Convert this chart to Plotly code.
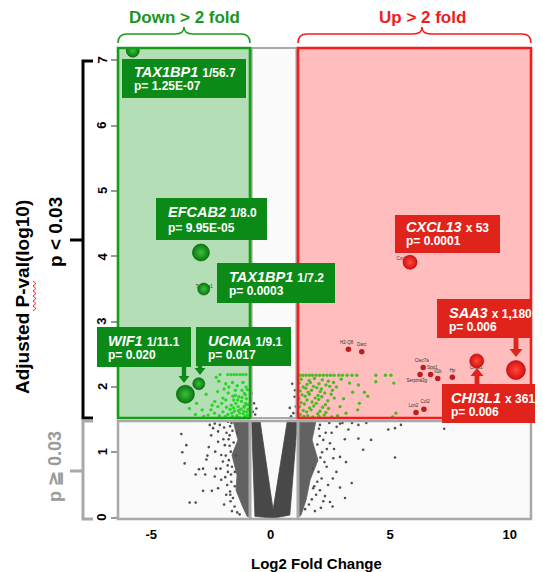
import plotly.graph_objects as go

# ---------------- data ----------------
# highlighted genes (log2 fold change, adjusted -log10 p)
hl_genes = ["TAX1BP1", "EFCAB2", "TAX1BP1", "WIF1", "UCMA", "CXCL13", "SAA3", "CHI3L1"]
hl_fc = [-5.77, -2.92, -2.80, -3.57, -3.01, 5.83, 10.26, 8.62]
hl_p = [7.15, 4.06, 3.50, 1.89, 2.05, 3.91, 2.26, 2.40]
hl_size = [13, 17, 12, 18, 12, 14, 19, 14]
hl_dir = ["down", "down", "down", "down", "down", "up", "up", "up"]

# other significant up genes (small red dots)
sm_genes = ["H2-Q8", "Darc", "Clec7a", "Serpina3g", "Spp1", "Il1b", "Hp", "Lcn2", "Col2"]
sm_fc = [3.25, 3.81, 6.38, 6.25, 6.69, 6.99, 7.60, 6.08, 6.41]
sm_p = [2.58, 2.54, 2.30, 2.19, 2.19, 2.13, 2.15, 1.61, 1.66]
# tiny gene label positions
tl_text = ["H2-Q8", "Darc", "Clec7a", "Spp1", "Il1b", "Hp", "Serpina3g", "Lcn2", "Col2", "Chi3l1", "Cxcl13", "Tax1bp1"]
tl_fc = [3.18, 3.81, 6.32, 6.76, 6.99, 7.60, 6.11, 5.97, 6.46, 8.59, 5.55, -2.78]
tl_p = [2.68, 2.64, 2.40, 2.29, 2.23, 2.24, 2.09, 1.71, 1.77, 2.29, 3.96, 3.53]

# significant but smaller fold (light green), down side
lgd_fc = [-2.12, -1.79, -1.66, -1.53, -1.41, -1.28, -1.16, -1.03, -2.28, -2.17, -1.88, -1.60, -1.16, -1.03,
          -2.70, -2.22, -1.78, -1.48, -1.33, -1.10, -0.98, -2.00, -2.34, -1.88, -1.55, -1.22, -1.02,
          -3.10, -3.40, -2.87, -2.50, -2.21, -1.65, -1.36, -1.12, -0.97, -2.62, -2.35, -2.00, -1.79, -1.52,
          -1.30, -1.15, -1.00, -1.70, -1.42, -1.25, -1.08, -0.98, -1.90, -2.15, -1.60, -1.46, -1.05, -1.20,
          -1.40, -1.75, -1.95, -1.30, -1.55, -1.85, -2.45, -2.80, -3.15, -2.05, -0.95, -1.12, -1.35, -1.63,
          -1.48, -1.20, -1.05, -1.38, -1.58, -1.10]
lgd_p = [2.19, 2.19, 2.19, 2.19, 2.19, 2.19, 2.19, 2.19, 2.15, 2.09, 2.05, 2.07, 2.07, 2.00,
         1.89, 1.93, 1.91, 1.95, 1.85, 1.90, 1.96, 1.83, 1.78, 1.80, 1.80, 1.78, 1.82,
         1.75, 1.67, 1.65, 1.65, 1.70, 1.72, 1.70, 1.69, 1.73, 1.57, 1.60, 1.62, 1.58, 1.63,
         1.60, 1.59, 1.62, 1.66, 1.56, 1.66, 1.55, 1.57, 1.55, 1.56, 1.55, 1.75, 1.75, 1.95,
         2.02, 2.00, 1.97, 1.53, 1.68, 1.69, 1.72, 1.55, 1.58, 1.75, 1.66, 1.63, 1.64, 1.60,
         1.87, 1.84, 1.88, 1.80, 1.86, 1.71]

# light green, up side
lgu_fc = [1.22, 1.35, 1.48, 1.62, 1.75, 1.90, 2.05, 2.20, 2.35, 2.50, 2.65, 2.85, 3.00, 3.20, 3.40, 3.60, 4.40, 4.80, 5.03,
          1.27, 1.61, 1.83, 2.16, 2.41, 2.95,
          1.19, 1.52, 1.66, 2.02, 2.31, 2.63, 3.30, 4.40, 5.15,
          1.36, 1.47, 1.79, 1.93, 2.12, 2.47, 2.75, 3.67,
          1.23, 1.57, 1.71, 2.07, 2.26, 2.58, 3.43, 3.92,
          1.31, 1.44, 1.62, 1.98, 2.14, 2.53, 4.06,
          1.18, 1.52, 1.86, 2.01, 2.39, 2.66, 3.05,
          1.27, 1.41, 1.73, 1.91, 2.29, 3.71,
          1.21, 1.63, 1.80, 2.17, 2.42, 2.90,
          1.36, 1.50, 1.69, 2.06, 2.31, 3.64,
          1.24, 1.55, 1.97, 2.24, 2.80, 3.15,
          1.17, 1.39, 1.76, 2.02, 2.55, 5.10, 5.24]
lgu_p = [2.18, 2.18, 2.18, 2.18, 2.18, 2.18, 2.18, 2.18, 2.18, 2.18, 2.18, 2.18, 2.18, 2.18, 2.18, 2.18, 2.18, 2.18, 2.18,
         2.12, 2.10, 2.13, 2.11, 2.09, 2.12,
         2.06, 2.04, 2.07, 2.05, 2.03, 2.07, 2.06, 2.08, 2.06,
         2.00, 1.98, 2.01, 1.99, 1.97, 2.01, 2.00, 2.03,
         1.94, 1.92, 1.95, 1.93, 1.91, 1.95, 1.92, 1.92,
         1.88, 1.86, 1.89, 1.87, 1.85, 1.89, 1.86,
         1.82, 1.80, 1.83, 1.81, 1.79, 1.83, 1.82,
         1.76, 1.74, 1.77, 1.75, 1.73, 1.75,
         1.70, 1.68, 1.71, 1.69, 1.67, 1.70,
         1.64, 1.62, 1.65, 1.63, 1.61, 1.65,
         1.58, 1.56, 1.59, 1.57, 1.56, 1.60,
         1.54, 1.55, 1.54, 1.55, 1.54, 1.54, 1.60]

# non-significant genes (grey), scattered
gl_fc = [-3.74, -3.53, -3.70, -3.60, -3.39, -3.14, -3.14, -3.00, -2.83, -2.74, -2.83, -2.59, -2.69, -2.65,
         -2.49, -2.41, -2.46, -2.28, -2.34, -2.20, -2.07, -2.32, -2.20, -1.95, -2.13, -2.00, -1.92, -1.86,
         -1.79, -2.20, -2.07, -1.72, -1.67, -1.65, -1.58, -1.51, -1.79, -2.34, -2.55,
         -1.85, -1.95, -1.70, -1.75, -1.82, -1.70, -1.62, -1.55, -1.88, -1.90, -1.68, -1.40, -1.30, -1.98,
         -2.10, -1.60, -1.62, -2.05, -1.50, -1.45, -1.50, -1.40, -1.72, -1.66, -1.76, -1.69, -1.80, -1.64]
gl_p = [1.28, 1.11, 1.00, 0.83, 0.23, 0.23, 0.66, 0.74, 0.75, 0.66, 0.41, 1.08, 0.89, 0.95,
        1.26, 1.37, 0.41, 0.75, 0.63, 0.45, 0.58, 1.01, 1.16, 0.20, 1.42, 0.86, 1.11, 0.35,
        0.70, 1.32, 0.96, 1.26, 1.01, 0.55, 0.30, 0.17, 1.47, 1.44, 1.42,
        1.30, 1.38, 1.40, 0.88, 0.50, 0.40, 0.78, 1.15, 0.95, 0.62, 0.25, 0.08, 0.05, 1.20,
        0.75, 1.33, 0.10, 1.48, 0.48, 0.95, 0.70, 1.30, 1.10, 0.66, 1.20, 0.35, 0.80, 1.45]
gr_fc = [3.67, 3.25, 4.92, 5.20, 5.45, 7.26, 3.67, 4.20, 3.87, 5.20, 2.90, 3.39, 2.90, 3.11, 2.59, 2.48,
         1.72, 1.44, 2.06, 2.27, 1.78, 2.13, 2.34, 2.62, 2.48, 2.20, 2.76, 2.90, 2.06,
         2.30, 2.45, 2.15, 2.25, 2.00, 1.95, 2.05, 2.35, 1.90, 1.60, 2.60, 2.75, 2.40, 2.55, 3.10,
         3.00, 2.10, 1.85, 2.20, 2.65, 3.40, 4.00, 3.15, 2.02, 1.95, 2.08, 1.82, 1.76]
gr_p = [1.42, 1.35, 1.35, 1.37, 1.42, 1.36, 1.21, 1.19, 1.04, 0.92, 0.93, 0.53, 0.46, 0.30, 0.17, 0.24,
        0.28, 0.13, 0.42, 0.33, 0.45, 0.60, 0.78, 0.91, 1.14, 1.19, 1.39, 1.44, 1.42,
        1.30, 1.45, 1.00, 0.85, 0.70, 0.55, 1.25, 1.05, 0.35, 0.20, 0.60, 0.70, 0.50, 1.30, 1.20,
        1.45, 0.15, 0.10, 0.25, 1.05, 1.45, 1.45, 0.85, 1.36, 1.12, 0.92, 0.48, 0.75]
gm_fc = [-0.75, -0.70, -0.80, -0.65, -0.60, 0.95, 1.00, 0.90, 1.05, 0.85, 0.80, 1.02]
gm_p = [1.62, 1.75, 1.90, 1.58, 1.67, 1.60, 1.85, 2.05, 1.70, 1.55, 1.68, 1.95]

# outlines of the densest (fully overlapping) point clouds
core_fc = [-0.80, -0.66, 0.10, 0.80, 1.12, 0.70, 0.10, -0.45]
core_p = [1.49, 0.02, -0.01, 0.04, 1.49, 1.49, 0.12, 1.49]
bandl_fc = [-0.88, -1.58, -1.37, -1.62, -1.41, -1.45, -1.20, -0.99, -0.88]
bandl_p = [1.49, 1.49, 1.19, 0.96, 0.65, 0.42, 0.19, 0.02, 0.01]
bandr_fc = [1.16, 1.90, 1.73, 1.98, 1.65, 1.48, 1.27, 1.16]
bandr_p = [1.49, 1.49, 1.19, 0.88, 0.58, 0.27, 0.04, 0.01]

x_ticks = [-5, 0, 5, 10]
y_ticks = [0, 1, 2, 3, 4, 5, 6, 7]

# label box texts
lab_ratio = ["1/56.7", "1/8.0", "1/7.2", "1/11.1", "1/9.1", "x 53", "x 1,180", "x 361"]
lab_pval = ["p= 1.25E-07", "p= 9.95E-05", "p= 0.0003", "p= 0.020", "p= 0.017", "p= 0.0001", "p= 0.006", "p= 0.006"]

# ---------------- layout helpers ----------------
# plot area in screen pixels; the page body adds an 8px offset
OFF = 8
L, R, T, B = 118, 531, 48, 519
W, H = 543 - OFF, 572 - OFF
FONT = "Liberation Sans, Arial, Helvetica, sans-serif"


def px(x):
    return (x - L) / (R - L)


def py(y):
    return (B - y) / (B - T)


def pstr(segs):
    s = ""
    for cmd, pts in segs:
        s += cmd + " " + " ".join(f"{px(a):.5f},{py(b):.5f}" for a, b in pts) + " "
    return s.strip()


GREEN = "#0b8a17"
GREEN_LINE = "#169e16"
RED = "#e1241b"
RED_LINE = "#f41c1c"
GREY_LINE = "#a9a9a9"

fig = go.Figure()

# dense grey clouds
for fx, fy, col in [(bandl_fc, bandl_p, "#626262"), (bandr_fc, bandr_p, "#626262"), (core_fc, core_p, "#484848")]:
    fig.add_trace(go.Scatter(x=fx, y=fy, fill="toself", fillcolor=col, mode="lines",
                             line=dict(width=0.8, color=col), hoverinfo="skip"))
# scattered grey points
fig.add_trace(go.Scatter(x=gl_fc + gr_fc + gm_fc, y=gl_p + gr_p + gm_p, mode="markers",
                         marker=dict(size=2.6, color="#505050")))
# light green significant
fig.add_trace(go.Scatter(x=lgd_fc, y=lgd_p, mode="markers", marker=dict(size=3.4, color="#2bd62b")))
fig.add_trace(go.Scatter(x=lgu_fc, y=lgu_p, mode="markers", marker=dict(size=3.4, color="#4cbb26")))
# small red
fig.add_trace(go.Scatter(x=sm_fc, y=sm_p, mode="markers", marker=dict(size=5.5, color="#bb1e1e")))
# tiny gene labels
fig.add_trace(go.Scatter(x=tl_fc, y=tl_p, mode="text", text=tl_text,
                         textfont=dict(size=4.5, color="#333333", family=FONT)))
# highlighted spheres
for d, col, grad, ln in [("down", "#067a0e", "#3cbf3c", "#055a09"), ("up", "#d80f0f", "#ff4a3a", "#a00a0a")]:
    idx = [i for i in range(len(hl_fc)) if hl_dir[i] == d]
    fig.add_trace(go.Scatter(x=[hl_fc[i] for i in idx], y=[hl_p[i] for i in idx], mode="markers",
                             marker=dict(size=[hl_size[i] for i in idx], color=col, opacity=1,
                                         gradient=dict(type="radial", color=grad),
                                         line=dict(width=0.6, color=ln))))

shapes = []


def rect(x0, y0, x1, y1, fill=None, line=None, lw=0, layer="below"):
    shapes.append(dict(type="rect", xref="paper", yref="paper", x0=px(x0), x1=px(x1), y0=py(y1), y1=py(y0),
                       fillcolor=fill or "rgba(0,0,0,0)", line=dict(color=line or "rgba(0,0,0,0)", width=lw),
                       layer=layer))


def line(pts, color, w, layer="above"):
    shapes.append(dict(type="path", xref="paper", yref="paper",
                       path=pstr([("M", [pts[0]])] + [("L", [p]) for p in pts[1:]]),
                       line=dict(color=color, width=w), layer=layer))


# region fills
rect(L, 421, R, B, fill="#fafafa")
rect(251.5, 48, 296.5, 418, fill="#fbfbfb")
rect(L, 48, 250, 418, fill="#b4dfb6")
rect(298, 48, R, 418, fill="#ffbdbd")
# region borders (above points)
rect(L, 421, R, B, line=GREY_LINE, lw=2.5, layer="above")
line([(250, 421), (250, B)], GREY_LINE, 3)
line([(298, 421), (298, B)], GREY_LINE, 3)
rect(251.5, 48, 296.5, 418, line=GREY_LINE, lw=2.2, layer="above")
rect(L, 48, 250, 418, line=GREEN_LINE, lw=2.6, layer="above")
rect(298, 48, R, 418, line=RED_LINE, lw=2.6, layer="above")

# braces
shapes.append(dict(type="path", xref="paper", yref="paper", layer="above",
                   path=pstr([("M", [(118, 43)]), ("Q", [(118, 34), (127, 34)]), ("L", [(175, 34)]),
                              ("Q", [(184, 34), (184, 27)]), ("Q", [(184, 34), (193, 34)]), ("L", [(241, 34)]),
                              ("Q", [(250, 34), (250, 43)])]),
                   line=dict(color=GREEN_LINE, width=1.6)))
shapes.append(dict(type="path", xref="paper", yref="paper", layer="above",
                   path=pstr([("M", [(298, 43)]), ("Q", [(298, 34), (307, 34)]), ("L", [(413, 34)]),
                              ("Q", [(422, 34), (422, 27)]), ("Q", [(422, 34), (431, 34)]), ("L", [(522, 34)]),
                              ("Q", [(531, 34), (531, 43)])]),
                   line=dict(color=RED_LINE, width=1.6)))

# left brackets
line([(93, 61), (83, 61), (83, 418), (93, 418)], "#000000", 3)
line([(70, 240), (83, 240)], "#000000", 3)
line([(93, 421), (83, 421), (83, 519), (93, 519)], GREY_LINE, 3)
line([(70, 471), (83, 471)], GREY_LINE, 3)

# spell-check squiggle
sq = []
yy = 281
k = 0
while yy <= 313:
    sq.append((33 if k % 2 == 0 else 36, yy))
    yy += 2.5
    k += 1
line(sq, "#ff2020", 1)

# label boxes
boxes = [
    (122, 59, 246, 98, GREEN, 132, 72, 86),
    (156, 198, 267, 240, GREEN, 166, 212, 228),
    (217, 263, 335, 303, GREEN, 227, 277, 291),
    (97, 327, 191, 367, GREEN, 106, 341, 355),
    (196, 327, 291, 366, GREEN, 206, 341, 355),
    (395, 215, 500, 253, RED, 404, 227, 241),
    (437, 299, 531, 338, RED, 447, 313, 327),
    (442, 384, 536, 423, RED, 449, 398, 412),
]
annotations = []


def txt(x, y, s, size, color, xanchor="center", yanchor="middle", angle=0, yref="paper"):
    annotations.append(dict(x=px(x), y=(py(y) if yref == "paper" else y), xref="paper", yref=yref, text=s,
                            showarrow=False, xanchor=xanchor, yanchor=yanchor, textangle=angle,
                            font=dict(size=size, color=color, family=FONT)))


for i, (x0, y0, x1, y1, col, tx, t1, t2) in enumerate(boxes):
    rect(x0, y0, x1, y1, fill=col, layer="above")
    txt(tx, t1, f"<b><i>{hl_genes[i]}</i> <span style='font-size:12px'>{lab_ratio[i]}</span></b>", 14.5,
        "white", xanchor="left")
    txt(tx, t2, f"<b>{lab_pval[i]}</b>", 12, "white", xanchor="left")


# arrows
def arrow(x, y0, y1, col, hw=5.5, sw=2.2, hl=7):
    d = 1 if y1 > y0 else -1
    yb = y1 - d * hl
    shapes.append(dict(type="path", xref="paper", yref="paper", layer="above", fillcolor=col,
                       line=dict(width=0),
                       path=pstr([("M", [(x - sw, y0)]), ("L", [(x + sw, y0)]), ("L", [(x + sw, yb)]),
                                  ("L", [(x + hw, yb)]), ("L", [(x, y1)]), ("L", [(x - hw, yb)]),
                                  ("L", [(x - sw, yb)])]) + " Z"))


arrow(184, 366, 383, GREEN)
arrow(200, 365, 375, GREEN)
arrow(516, 337, 357, RED, hw=6.5, sw=2.4, hl=8)
arrow(477, 385, 368, RED, hw=6.5, sw=2.4, hl=8)

# y tick labels (rotated)
for v in y_ticks:
    txt(102, v, f"<b>{v}</b>", 13, "#000000", angle=-90, yref="y")

# titles & side labels
txt(184, 17, "<b>Down &gt; 2 fold</b>", 17, "#1a961a")
txt(422, 17, "<b>Up &gt; 2 fold</b>", 17, "#ee1c1c")
txt(22, 297, "<b>Adjusted P-val(log10)</b>", 19, "#000000", angle=-90)
txt(55, 232, "<b>p &lt; 0.03</b>", 19, "#000000", angle=-90)
txt(55, 466, "<b>p ≧ 0.03</b>", 18, "#9a9a9a", angle=-90)
txt(316, 563, "<b>Log2 Fold Change</b>", 15, "#000000")

fig.update_layout(
    width=W, height=H,
    margin=dict(l=L - OFF, r=W - (R - OFF), t=T - OFF, b=H - (B - OFF), pad=0),
    plot_bgcolor="white", paper_bgcolor="white",
    showlegend=False,
    shapes=shapes, annotations=annotations,
    font=dict(family=FONT),
    xaxis=dict(range=[-6.389, 10.891], showgrid=False, zeroline=False, showline=False,
               tickvals=x_ticks, ticktext=[str(v) for v in x_ticks], ticks="outside", ticklen=3,
               tickcolor="rgba(0,0,0,0)", tickfont=dict(size=13, color="black", weight="bold")),
    yaxis=dict(range=[-0.021, 7.191], showgrid=False, zeroline=False, showline=False,
               tickvals=y_ticks, showticklabels=False, ticks="outside", ticklen=6,
               tickwidth=1.5, tickcolor="#999999"),
)

fig.write_html("out.html")
